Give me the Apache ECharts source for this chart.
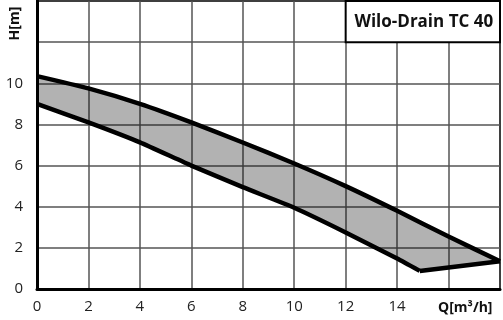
<!DOCTYPE html>
<html><head><meta charset="utf-8">
<script src="https://cdn.jsdelivr.net/npm/echarts@6/dist/echarts.min.js"></script>
<style>html,body{margin:0;padding:0;background:#fff}#c{width:503px;height:320px}</style>
</head><body><div id="c"></div>
<script>
const title = 'Wilo-Drain TC 40';
const xName = 'Q[m³/h]';
const yName = 'H[m]';
const xTicks = [0, 2, 4, 6, 8, 10, 12, 14];
const yTicks = [0, 2, 4, 6, 8, 10];
const upperQ = [0, 2, 4, 6, 8, 10, 12, 14, 16, 18];
const upperH = [10.35, 9.75, 9.0, 8.1, 7.12, 6.1, 5.0, 3.8, 2.55, 1.35];
const lowerQ = [0, 2, 4, 6, 8, 10, 12, 14, 14.88];
const lowerH = [9.0, 8.1, 7.13, 6.0, 4.95, 3.95, 2.75, 1.48, 0.88];
const endQ = [14.88, 18];
const endH = [0.88, 1.35];

const upper = upperQ.map((q, i) => [q, upperH[i]]);
const lower = lowerQ.map((q, i) => [q, lowerH[i]]);
const endSeg = endQ.map((q, i) => [q, endH[i]]);
const polygonPts = upper.concat(endSeg.slice().reverse(), lower.slice().reverse());

const font = 'Open Sans';
const chart = echarts.init(document.getElementById('c'));
chart.setOption({
  animation: false,
  grid: {left: 37, right: 2, top: 1, bottom: 31, show: true, borderColor: '#000', borderWidth: 2, backgroundColor: 'transparent'},
  xAxis: {
    type: 'value', min: 0, max: 18, interval: 2,
    axisLine: {show: true, onZero: false, lineStyle: {color: '#000', width: 3}},
    axisTick: {show: false},
    splitLine: {show: true, lineStyle: {color: '#555', width: 1.5}},
    axisLabel: {margin: 10, color: '#222', fontFamily: font, fontSize: 15,
      formatter: v => xTicks.indexOf(v) >= 0 ? String(v) : ''}
  },
  yAxis: {
    type: 'value', min: 0, max: 14, interval: 2,
    axisLine: {show: true, onZero: false, lineStyle: {color: '#000', width: 3}},
    axisTick: {show: false},
    splitLine: {show: true, lineStyle: {color: '#555', width: 1.5}},
    axisLabel: {margin: 14, color: '#222', fontFamily: font, fontSize: 15,
      formatter: v => yTicks.indexOf(v) >= 0 ? String(v) : ''}
  },
  series: [
    {
      type: 'custom', z: 1,
      renderItem: (params, api) => ({
        type: 'polygon',
        shape: {points: polygonPts.map(p => api.coord(p))},
        style: {fill: 'rgba(0,0,0,0.3)', stroke: 'none'}
      }),
      data: [0]
    },
    {type: 'line', data: upper, smooth: 0.2, symbol: 'none', lineStyle: {color: '#000', width: 4.5}, z: 3},
    {type: 'line', data: lower, smooth: 0.15, symbol: 'none', lineStyle: {color: '#000', width: 4.5}, z: 3},
    {type: 'line', data: endSeg, symbol: 'none', lineStyle: {color: '#000', width: 4.5, join: 'round'}, z: 3}
  ]
});

const tl = chart.convertToPixel({gridIndex: 0}, [12, 14]);
const br = chart.convertToPixel({gridIndex: 0}, [18, 12]);
const qPos = chart.convertToPixel({gridIndex: 0}, [16.65, 0]);
const hPos = chart.convertToPixel({gridIndex: 0}, [0, 13]);
chart.setOption({
  graphic: [
    {type: 'rect', z: 10, shape: {x: tl[0], y: tl[1], width: br[0] - tl[0], height: br[1] - tl[1]},
      style: {fill: '#fff', stroke: '#000', lineWidth: 2}},
    {type: 'text', z: 11, x: (tl[0] + br[0]) / 2 + 1, y: (tl[1] + br[1]) / 2 + 1,
      style: {text: title, fill: '#111', font: 'bold 17px "Open Sans"', align: 'center', verticalAlign: 'middle'}},
    {type: 'text', z: 11, x: qPos[0], y: qPos[1] + 19,
      style: {text: xName, fill: '#111', font: 'bold 14px "Open Sans"', align: 'center', verticalAlign: 'middle'}},
    {type: 'text', z: 11, x: 15, y: hPos[1] + 2, rotation: Math.PI / 2,
      style: {text: yName, fill: '#111', font: 'bold 14px "Open Sans"', align: 'center', verticalAlign: 'middle'}}
  ]
});
</script></body></html>
